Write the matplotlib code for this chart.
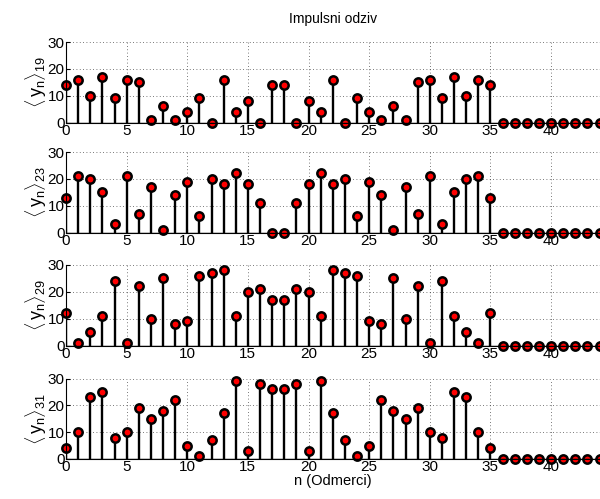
import matplotlib
matplotlib.use("Agg")
import matplotlib.pyplot as plt
import numpy as np

plt.rcParams["font.family"] = ["Liberation Sans", "DejaVu Sans"]
plt.rcParams["mathtext.fontset"] = "custom"
plt.rcParams["mathtext.rm"] = "Liberation Sans"
plt.rcParams["mathtext.it"] = "Liberation Sans"

# ── podaci (impulsni odzivi, n = 0..44) ───────────────────────────────────────
n = np.arange(45)
zeros_tail = [0] * 9

y19 = [14, 16, 10, 17, 9, 16, 15, 1, 6, 1, 4, 9, 0, 16, 4, 8, 0, 14,
       14, 0, 8, 4, 16, 0, 9, 4, 1, 6, 1, 15, 16, 9, 17, 10, 16, 14] + zeros_tail
y23 = [13, 21, 20, 15, 3, 21, 7, 17, 1, 14, 19, 6, 20, 18, 22, 18, 11, 0,
       0, 11, 18, 22, 18, 20, 6, 19, 14, 1, 17, 7, 21, 3, 15, 20, 21, 13] + zeros_tail
y29 = [12, 1, 5, 11, 24, 1, 22, 10, 25, 8, 9, 26, 27, 28, 11, 20, 21, 17,
       17, 21, 20, 11, 28, 27, 26, 9, 8, 25, 10, 22, 1, 24, 11, 5, 1, 12] + zeros_tail
y31 = [4, 10, 23, 25, 8, 10, 19, 15, 18, 22, 5, 1, 7, 17, 29, 3, 28, 26,
       26, 28, 3, 29, 17, 7, 1, 5, 22, 18, 15, 19, 10, 8, 25, 23, 10, 4] + zeros_tail

series = [(y19, "19"), (y23, "23"), (y29, "29"), (y31, "31")]
xticks = [0, 5, 10, 15, 20, 25, 30, 35, 40]
yticks = [0, 10, 20, 30]

fig = plt.figure(figsize=(6.0, 4.99), dpi=100)

W, H = 600, 499
left_px, right_px = 66, 599.5
tops_px = [42, 152, 265, 378.5]
height_px = 80.5

for i, (vals, idx) in enumerate(series):
    top = tops_px[i]
    ax = fig.add_axes([left_px / W, 1 - (top + height_px) / H,
                       (right_px - left_px) / W, height_px / H])
    markerline, stemlines, baseline = ax.stem(n, vals, linefmt="k-", markerfmt="o", basefmt="k-")
    plt.setp(stemlines, linewidth=1.7, color="black")
    plt.setp(markerline, markersize=6, markerfacecolor="red",
             markeredgecolor="black", markeredgewidth=1.8, clip_on=False)
    plt.setp(baseline, linewidth=1.0, color="black")

    ax.set_xlim(0, 44)
    ax.set_ylim(0, 30)
    ax.set_xticks(xticks)
    ax.set_yticks(yticks)
    ax.tick_params(direction="in", labelsize=11, length=3, pad=1)
    ax.grid(True, linestyle=(0, (1, 3)), color="black", linewidth=0.6, alpha=0.7)
    ax.set_axisbelow(True)
    ax.spines["top"].set_visible(False)
    ax.spines["right"].set_visible(False)
    ax.set_ylabel(r"$\langle\,\mathrm{y}_n\rangle_{" + idx + "}$", fontsize=13, labelpad=-1)
    if i == 0:
        ax.set_title("Impulsni odziv", fontsize=10, pad=14)
    if i == 3:
        ax.set_xlabel("n (Odmerci)", fontsize=10.5, labelpad=0)

fig.savefig("out.png", dpi=100)
